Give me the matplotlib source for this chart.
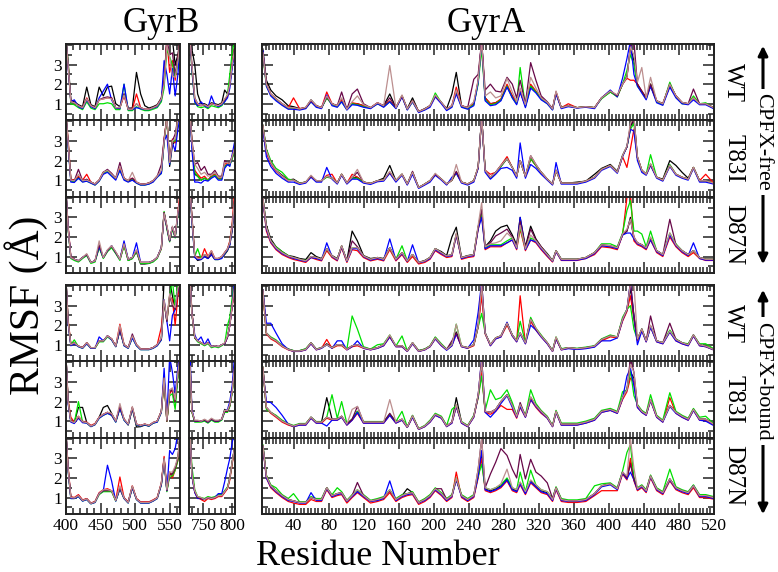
import matplotlib
matplotlib.use('Agg')
import matplotlib.pyplot as plt
from matplotlib.patches import FancyArrowPatch
from matplotlib.ticker import MultipleLocator, NullFormatter

plt.rcParams['font.family'] = ['Liberation Serif', 'DejaVu Serif']

# residue numbers of the sampled points
res_b1 = [400, 403, 407, 412, 418, 424, 430, 436, 442, 448, 454, 460, 466, 472, 478, 484,
          490, 496, 502, 508, 514, 520, 526, 532, 538, 542, 546, 550, 554, 558, 562, 565]
res_b2 = [727, 730, 735, 740, 746, 752, 758, 764, 770, 776, 782, 787, 792, 796, 800, 804]
res_a = [5, 9, 14, 20, 27, 34, 40, 47, 54, 60, 66, 72, 78, 84, 90, 95, 101, 107, 113, 120,
         128, 136, 143, 150, 157, 164, 170, 176, 183, 190, 196, 202, 209, 215, 221, 226, 232, 239, 246, 251,
         255, 259, 265, 271, 277, 284, 290, 295, 299, 305, 311, 317, 323, 330, 336, 340, 346, 354, 364, 374,
         384, 392, 402, 410, 416, 421, 425, 429, 433, 438, 443, 448, 455, 462, 470, 477, 484, 491, 497, 504,
         511, 520]

# series order in every block: black, red, green, blue, maroon, brown
colors = ['#000000', '#ff0000', '#00e000', '#0000ff', '#670748', '#bc8f8f']

# ---------------- CPFX-free, WT ----------------
wt_free_b1 = [
    [4.3, 3.2, 1.2, 1.1, 0.95, 0.85, 1.85, 0.95, 0.85, 1.85, 1.4, 1.85, 1.9, 1.0, 0.85, 1.5, 0.78, 0.78, 2.6, 1.5, 0.9, 0.78, 0.85, 0.95, 1.3, 2.2, 4.3, 4.3, 4.3, 3.0, 3.5, 4.3],
    [4.3, 3.0, 1.1, 1.05, 0.9, 0.8, 1.3, 0.9, 0.8, 1.2, 1.25, 1.3, 1.3, 0.8, 0.8, 1.4, 0.72, 0.72, 1.5, 0.8, 0.72, 0.72, 0.8, 0.9, 1.25, 2.0, 4.3, 2.6, 3.2, 2.2, 3.3, 4.2],
    [4.3, 3.1, 1.0, 0.95, 0.8, 0.7, 1.1, 0.78, 0.7, 1.0, 1.0, 1.05, 1.0, 0.7, 0.7, 2.0, 0.65, 0.65, 0.85, 0.72, 0.65, 0.65, 0.72, 0.8, 1.1, 1.8, 3.8, 3.4, 3.0, 2.4, 3.0, 4.2],
    [4.3, 2.9, 1.1, 1.2, 0.85, 0.75, 1.2, 0.85, 0.75, 1.3, 1.65, 2.0, 1.2, 0.78, 0.75, 2.0, 0.7, 0.7, 0.8, 0.75, 0.7, 0.7, 0.78, 0.85, 1.2, 3.2, 2.5, 1.5, 2.8, 1.4, 2.5, 4.0],
    [4.3, 3.0, 1.1, 1.05, 0.9, 0.8, 1.25, 0.9, 0.8, 1.2, 1.3, 1.35, 1.3, 0.8, 0.8, 1.5, 0.72, 0.72, 1.0, 0.8, 0.72, 0.72, 0.8, 0.9, 1.25, 2.1, 4.3, 3.5, 3.6, 2.5, 3.4, 4.3],
    [4.3, 3.0, 1.1, 1.05, 0.9, 0.8, 1.25, 0.9, 0.8, 1.2, 1.25, 1.3, 1.25, 0.8, 0.8, 1.45, 0.72, 0.72, 1.0, 0.8, 0.72, 0.72, 0.8, 0.9, 1.25, 2.0, 4.0, 3.4, 2.4, 2.35, 3.2, 4.2],
]
wt_free_b2 = [
    [4.3, 3.8, 3.0, 1.5, 1.0, 1.0, 0.9, 1.05, 1.0, 0.95, 1.05, 1.7, 1.5, 2.0, 3.0, 3.8],
    [4.3, 2.8, 1.2, 0.95, 0.9, 0.95, 0.85, 1.0, 0.95, 0.9, 1.0, 1.2, 1.4, 2.0, 3.0, 3.8],
    [4.3, 2.7, 1.1, 0.85, 0.8, 0.85, 0.75, 0.9, 0.85, 0.8, 0.9, 1.1, 1.5, 2.5, 3.6, 4.2],
    [4.3, 2.8, 1.1, 0.9, 1.1, 0.9, 0.8, 1.4, 0.95, 0.85, 0.95, 1.1, 1.3, 1.8, 2.8, 3.6],
    [4.3, 3.0, 1.3, 1.0, 0.9, 0.95, 0.85, 1.0, 0.95, 0.9, 1.0, 1.2, 1.4, 2.0, 3.0, 3.8],
    [4.3, 3.0, 1.3, 1.0, 0.9, 0.95, 0.85, 1.0, 0.95, 0.9, 1.0, 1.25, 1.45, 2.0, 3.0, 3.7],
]
wt_free_a = [
    [3.8, 2.2, 1.7, 1.4, 1.2, 0.9, 0.85, 0.75, 0.8, 1.2, 0.9, 0.8, 1.3, 1.0, 0.9, 1.2, 0.75, 1.0, 1.0, 0.9,
     0.8, 1.0, 0.9, 1.5, 0.8, 1.4, 0.75, 1.3, 0.6, 0.75, 0.9, 1.4, 1.05, 0.75, 1.5, 2.6, 0.9, 0.8, 1.0, 2.1,
     4.2, 1.3, 1.0, 1.05, 1.2, 1.9, 1.4, 1.05, 1.6, 0.9, 1.9, 1.6, 1.3, 1.05, 0.75, 1.55, 0.8, 0.9, 0.8, 0.85,
     0.8, 1.3, 1.6, 1.4, 2.0, 2.4, 3.9, 3.2, 2.0, 1.6, 1.3, 1.9, 1.15, 1.0, 1.9, 1.4, 1.05, 1.0, 1.3, 1.0, 1.0, 0.8],
    [3.6, 2.0, 1.5, 1.25, 1.0, 0.8, 1.3, 0.75, 0.8, 1.15, 0.9, 0.8, 1.6, 1.0, 0.9, 1.2, 0.72, 1.05, 1.0, 0.9,
     0.8, 1.05, 0.9, 1.15, 0.8, 1.4, 0.72, 1.15, 0.6, 0.72, 0.9, 1.4, 1.05, 0.72, 0.9, 1.85, 0.9, 0.8, 1.0, 2.2,
     4.2, 1.3, 1.0, 1.05, 1.25, 2.0, 1.4, 1.05, 1.65, 0.9, 2.0, 1.65, 1.3, 1.05, 0.72, 1.6, 0.8, 1.0, 0.8, 0.85,
     0.8, 1.3, 1.65, 1.4, 2.0, 2.3, 2.2, 2.2, 2.0, 1.65, 1.3, 2.0, 1.15, 1.0, 2.0, 1.4, 1.05, 1.0, 1.3, 1.0, 1.0, 0.8],
    [3.5, 1.9, 1.45, 1.2, 0.95, 0.75, 0.78, 0.7, 0.78, 1.1, 0.85, 0.78, 1.3, 0.95, 0.85, 1.1, 0.7, 1.0, 0.95, 0.85,
     0.78, 1.0, 0.85, 1.1, 0.78, 1.4, 0.7, 1.1, 0.58, 0.7, 0.88, 1.55, 1.05, 0.7, 0.85, 1.6, 0.85, 0.75, 0.95, 2.0,
     3.8, 1.2, 0.95, 1.0, 1.2, 1.9, 1.3, 1.0, 2.85, 0.85, 1.9, 1.6, 1.25, 1.0, 0.7, 1.55, 0.8, 0.9, 0.8, 0.85,
     0.8, 1.25, 1.6, 1.35, 2.0, 2.7, 3.5, 3.0, 1.9, 1.6, 1.25, 2.0, 1.1, 0.95, 2.1, 1.35, 1.0, 1.0, 1.4, 1.0, 1.05, 0.78],
    [3.7, 1.9, 1.4, 1.15, 0.92, 0.72, 0.72, 0.68, 0.75, 1.1, 0.82, 0.75, 1.45, 0.9, 0.82, 1.1, 0.68, 0.95, 0.92, 0.82,
     0.75, 1.0, 0.82, 1.1, 0.75, 1.35, 0.68, 1.1, 0.55, 0.68, 0.82, 1.35, 1.0, 0.65, 0.82, 1.5, 0.82, 0.72, 0.9, 2.1,
     4.2, 1.15, 0.9, 0.95, 1.15, 1.85, 1.3, 0.95, 1.6, 0.8, 1.8, 1.55, 1.2, 1.0, 0.68, 1.5, 0.75, 0.85, 0.78, 0.82,
     0.75, 1.3, 1.7, 1.35, 2.3, 3.3, 4.2, 2.5, 1.9, 1.55, 1.2, 1.9, 1.05, 0.92, 1.85, 1.3, 1.0, 0.95, 1.2, 0.95, 0.95, 0.75],
    [3.6, 2.0, 1.5, 1.25, 1.0, 0.8, 0.8, 0.73, 0.8, 1.15, 0.9, 0.8, 1.35, 1.0, 0.9, 1.6, 0.72, 1.5, 1.75, 1.0,
     0.8, 1.05, 0.9, 1.3, 0.8, 1.4, 0.73, 1.15, 0.6, 0.73, 0.9, 1.4, 1.07, 0.73, 0.9, 1.65, 0.9, 0.8, 2.25, 2.5,
     4.2, 1.7, 2.0, 1.65, 1.6, 2.35, 2.0, 1.3, 2.2, 1.0, 3.1, 2.2, 1.4, 1.1, 0.75, 1.6, 0.8, 0.9, 0.8, 0.85,
     0.8, 1.3, 1.65, 1.4, 2.0, 2.35, 3.9, 4.2, 2.0, 1.65, 1.3, 2.0, 1.15, 1.0, 2.0, 1.4, 1.07, 1.0, 1.75, 1.0, 1.0, 0.8],
    [3.6, 2.0, 1.5, 1.25, 1.0, 0.8, 0.8, 0.73, 0.82, 1.2, 0.9, 0.8, 1.4, 1.0, 0.9, 1.3, 0.72, 1.1, 1.4, 0.95,
     0.8, 1.05, 0.9, 2.95, 0.8, 1.45, 0.73, 1.15, 0.6, 0.73, 0.9, 1.45, 1.07, 0.73, 0.9, 1.7, 0.9, 0.8, 1.1, 2.2,
     4.2, 1.4, 1.6, 1.3, 1.4, 2.3, 1.6, 1.1, 1.8, 0.95, 2.35, 1.8, 1.3, 1.07, 0.73, 1.65, 0.8, 0.9, 0.8, 0.85,
     0.8, 1.3, 1.65, 1.45, 2.0, 2.35, 3.9, 3.5, 2.1, 2.85, 1.3, 2.35, 1.15, 1.0, 2.0, 1.4, 1.07, 1.0, 1.3, 1.0, 1.0, 0.8],
]

# ---------------- CPFX-free, T83I ----------------
t83i_free_b1 = [
    [4.3, 2.9, 1.0, 0.97, 1.15, 0.97, 1.0, 0.9, 0.8, 1.0, 1.4, 1.5, 1.3, 1.1, 1.55, 1.1, 0.95, 1.05, 0.88, 0.78, 0.8, 0.85, 0.97, 1.2, 1.35, 3.0, 4.2, 1.7, 2.8, 3.0, 4.0, 4.2],
    [4.3, 3.1, 1.05, 1.0, 1.2, 1.0, 1.3, 0.9, 0.8, 1.0, 1.4, 1.45, 1.3, 1.1, 1.6, 1.1, 0.97, 1.1, 0.9, 0.8, 0.8, 0.85, 0.97, 1.2, 1.4, 3.1, 4.2, 1.9, 3.1, 2.9, 4.2, 4.2],
    [4.3, 2.9, 0.95, 0.92, 1.1, 0.92, 0.95, 0.85, 0.75, 0.95, 1.35, 1.45, 1.25, 1.05, 1.5, 1.05, 0.92, 1.05, 0.85, 0.75, 0.75, 0.8, 0.92, 1.15, 1.35, 2.9, 4.2, 1.8, 3.0, 3.0, 4.2, 4.2],
    [4.3, 2.8, 0.9, 0.88, 1.1, 0.9, 0.95, 0.85, 0.75, 0.95, 1.3, 1.4, 1.2, 1.0, 1.5, 1.0, 0.9, 1.0, 0.85, 0.75, 0.75, 0.8, 0.9, 1.15, 1.35, 3.0, 3.3, 1.8, 2.9, 2.5, 3.6, 4.2],
    [4.3, 3.0, 1.0, 0.97, 1.55, 0.97, 1.05, 0.9, 0.8, 1.0, 1.4, 1.55, 1.35, 1.1, 1.9, 1.1, 0.97, 1.1, 0.9, 0.8, 0.8, 0.85, 0.97, 1.2, 1.8, 3.1, 4.2, 1.9, 3.0, 3.35, 4.2, 4.2],
    [4.3, 3.0, 1.0, 0.97, 1.3, 0.97, 1.0, 0.9, 0.8, 1.0, 1.4, 1.5, 1.3, 1.1, 1.7, 1.1, 0.97, 1.4, 0.9, 0.8, 0.8, 0.85, 0.97, 1.2, 1.5, 3.0, 4.2, 1.9, 3.0, 3.1, 4.2, 4.2],
]
t83i_free_b2 = [
    [4.3, 3.0, 1.3, 1.2, 1.0, 1.1, 1.0, 1.2, 1.3, 1.1, 1.1, 1.7, 1.8, 1.8, 2.1, 2.5],
    [4.3, 3.0, 1.5, 1.3, 1.1, 1.2, 1.0, 1.2, 1.3, 1.1, 1.1, 1.8, 1.9, 1.8, 2.2, 2.6],
    [4.3, 2.9, 1.4, 1.2, 1.0, 1.1, 1.0, 1.15, 1.25, 1.05, 1.05, 1.7, 1.8, 1.75, 2.1, 2.5],
    [4.3, 2.6, 0.9, 0.9, 0.85, 1.0, 0.95, 1.1, 1.2, 1.0, 1.0, 1.6, 1.8, 1.7, 2.3, 2.9],
    [4.3, 3.1, 1.8, 1.9, 1.5, 1.7, 1.3, 1.3, 1.5, 1.2, 1.2, 2.0, 1.9, 1.9, 2.2, 2.6],
    [4.3, 3.0, 1.8, 1.6, 1.3, 1.4, 1.2, 1.25, 1.4, 1.15, 1.15, 1.9, 1.9, 1.85, 2.2, 2.6],
]
t83i_free_a = [
    [3.8, 2.5, 1.9, 1.5, 1.25, 1.0, 1.05, 0.85, 0.9, 1.2, 0.97, 0.97, 1.2, 1.1, 0.85, 1.3, 0.85, 1.1, 1.15, 0.9,
     0.83, 0.97, 1.1, 1.75, 0.97, 1.3, 0.8, 1.4, 0.62, 0.8, 0.97, 1.3, 1.05, 0.8, 1.0, 1.4, 0.9, 0.8, 0.97, 1.65,
     4.2, 1.5, 1.1, 1.4, 1.7, 2.1, 1.65, 1.2, 2.0, 1.2, 2.1, 1.75, 1.4, 1.05, 0.8, 1.5, 0.85, 0.85, 0.9, 0.95,
     1.3, 1.6, 1.8, 1.45, 2.25, 2.7, 3.7, 4.2, 2.15, 1.5, 1.3, 1.8, 1.15, 1.05, 2.0, 1.75, 1.4, 1.1, 1.65, 0.97, 0.97, 0.85],
    [3.7, 2.4, 1.85, 1.45, 1.2, 0.97, 1.0, 0.83, 0.9, 1.2, 0.97, 0.97, 1.25, 1.3, 0.85, 1.3, 0.85, 1.3, 1.15, 0.9,
     0.83, 0.97, 1.0, 1.4, 0.97, 1.3, 0.8, 1.35, 0.62, 0.8, 0.97, 1.3, 1.05, 0.8, 1.0, 1.4, 0.9, 0.8, 0.97, 1.65,
     4.2, 1.5, 1.3, 1.4, 1.75, 2.2, 1.65, 1.2, 2.0, 1.2, 2.1, 1.75, 1.4, 1.05, 0.8, 1.5, 0.85, 0.85, 0.85, 0.95,
     1.15, 1.55, 1.75, 1.4, 2.2, 1.65, 2.6, 3.6, 2.15, 1.5, 1.3, 1.8, 1.15, 1.0, 1.75, 1.3, 1.15, 1.05, 1.65, 0.97, 1.3, 0.85],
    [3.8, 2.6, 2.0, 1.6, 1.4, 1.05, 1.0, 0.85, 0.9, 1.2, 0.97, 0.97, 1.15, 1.1, 0.85, 1.3, 0.85, 1.1, 1.1, 0.9,
     0.83, 0.97, 1.0, 1.4, 0.97, 1.3, 0.8, 1.4, 0.62, 0.8, 0.97, 1.3, 1.05, 0.8, 1.0, 1.4, 0.9, 0.8, 0.97, 1.65,
     4.2, 1.5, 1.1, 1.4, 1.7, 2.1, 1.65, 1.2, 2.0, 1.2, 2.1, 1.75, 1.4, 1.05, 0.8, 1.5, 0.85, 0.85, 0.85, 0.95,
     1.15, 1.55, 1.75, 1.4, 2.25, 2.7, 3.6, 3.9, 2.15, 1.5, 1.3, 2.3, 1.15, 1.0, 1.8, 1.3, 1.15, 1.05, 1.65, 0.97, 0.97, 0.85],
    [3.6, 2.2, 1.7, 1.35, 1.1, 0.9, 0.9, 0.78, 0.85, 1.15, 0.9, 0.9, 1.65, 1.05, 0.8, 1.25, 0.8, 1.05, 1.05, 0.85,
     0.78, 0.92, 0.95, 1.35, 0.9, 1.25, 0.75, 1.3, 0.58, 0.75, 0.9, 1.25, 1.0, 0.75, 1.15, 1.35, 0.85, 0.75, 0.9, 1.6,
     4.2, 1.4, 1.05, 1.3, 1.6, 1.65, 1.5, 1.1, 2.9, 1.1, 1.8, 1.6, 1.3, 1.0, 0.75, 1.9, 0.8, 0.8, 0.8, 0.9,
     1.1, 1.5, 1.7, 1.35, 2.2, 2.7, 3.6, 3.5, 2.0, 1.4, 1.25, 1.75, 1.1, 0.95, 1.7, 1.25, 1.1, 1.0, 1.6, 0.9, 0.9, 0.8],
    [3.8, 2.5, 1.9, 1.5, 1.2, 0.97, 1.0, 0.83, 0.9, 1.2, 0.97, 0.97, 1.2, 1.1, 0.85, 1.3, 0.85, 1.15, 1.4, 0.9,
     0.83, 0.97, 1.0, 1.4, 0.97, 1.3, 0.8, 1.45, 0.62, 0.8, 0.97, 1.3, 1.05, 0.8, 1.0, 1.45, 0.9, 0.8, 0.97, 1.65,
     4.2, 1.5, 1.15, 1.4, 1.75, 2.1, 1.65, 1.2, 2.0, 1.2, 2.25, 1.8, 1.4, 1.05, 0.8, 1.5, 0.85, 0.85, 0.85, 0.95,
     1.15, 1.55, 1.75, 1.4, 2.25, 2.7, 3.8, 4.2, 2.2, 1.5, 1.3, 1.8, 1.15, 1.0, 1.75, 1.3, 1.15, 1.05, 1.65, 0.97, 0.97, 0.85],
    [3.8, 2.5, 1.9, 1.5, 1.2, 0.97, 1.0, 0.83, 0.9, 1.25, 0.97, 0.97, 1.2, 1.1, 0.85, 1.3, 0.85, 1.15, 1.55, 0.9,
     0.83, 0.97, 1.0, 1.45, 0.97, 1.3, 0.8, 1.4, 0.62, 0.8, 0.97, 1.35, 1.05, 0.8, 1.0, 1.8, 0.9, 0.8, 0.97, 1.7,
     4.2, 1.5, 1.15, 1.4, 1.75, 2.1, 1.65, 1.2, 2.0, 1.2, 2.25, 1.8, 1.4, 1.05, 0.8, 1.5, 0.85, 0.85, 0.85, 0.95,
     1.15, 1.55, 1.75, 1.4, 2.25, 2.75, 3.9, 4.2, 2.2, 1.5, 1.3, 1.85, 1.15, 1.0, 1.75, 1.3, 1.15, 1.05, 1.65, 0.97, 0.97, 0.85],
]

# ---------------- CPFX-free, D87N ----------------
d87n_free_b1 = [
    [4.3, 2.5, 0.95, 0.86, 0.78, 0.95, 1.1, 0.7, 0.78, 1.5, 0.95, 1.3, 1.5, 1.2, 0.86, 1.6, 0.8, 0.9, 1.25, 0.62, 0.62, 0.65, 0.75, 0.95, 1.45, 3.2, 2.5, 1.8, 2.5, 2.0, 3.2, 3.8],
    [4.3, 2.6, 1.0, 0.86, 0.78, 0.95, 1.1, 0.7, 0.78, 1.5, 0.95, 1.3, 1.5, 1.2, 0.86, 1.6, 0.86, 0.95, 1.3, 0.7, 0.7, 0.7, 0.78, 0.95, 1.4, 3.25, 2.5, 1.8, 2.5, 2.0, 3.3, 4.2],
    [4.3, 2.4, 0.9, 0.8, 0.72, 0.9, 1.05, 0.65, 0.72, 1.45, 0.9, 1.25, 1.45, 1.15, 0.8, 1.55, 0.8, 0.9, 1.25, 0.65, 0.65, 0.65, 0.72, 0.9, 1.4, 3.3, 2.4, 1.75, 2.4, 1.95, 3.1, 3.7],
    [4.3, 2.5, 0.95, 0.86, 0.78, 0.95, 1.1, 0.7, 0.78, 1.5, 0.95, 1.3, 1.55, 1.2, 0.86, 1.8, 0.86, 0.95, 1.7, 0.7, 0.7, 0.7, 0.78, 0.95, 1.45, 3.2, 2.5, 1.8, 2.5, 2.0, 3.2, 3.8],
    [4.3, 2.5, 0.95, 0.86, 0.78, 0.95, 1.1, 0.7, 0.78, 1.6, 0.95, 1.3, 1.55, 1.2, 0.86, 1.65, 0.86, 0.95, 1.3, 0.7, 0.7, 0.7, 0.78, 0.95, 1.45, 3.25, 2.5, 1.8, 2.5, 2.0, 3.2, 3.8],
    [4.3, 2.5, 0.95, 0.86, 0.78, 0.95, 1.15, 0.7, 0.78, 1.8, 0.95, 1.35, 1.55, 1.25, 0.86, 1.65, 0.86, 0.95, 1.35, 0.7, 0.7, 0.7, 0.78, 0.95, 1.45, 3.2, 2.6, 1.85, 2.55, 2.05, 3.3, 3.9],
]
d87n_free_b2 = [
    [4.3, 3.0, 1.0, 0.8, 0.85, 1.0, 0.9, 1.1, 0.85, 0.85, 0.95, 1.1, 1.3, 1.6, 2.3, 3.5],
    [4.3, 3.0, 1.05, 0.95, 0.9, 1.4, 1.0, 1.3, 0.9, 0.9, 1.0, 1.2, 1.4, 1.8, 2.7, 4.2],
    [4.3, 2.9, 1.0, 1.4, 0.9, 1.1, 0.95, 1.2, 0.85, 0.85, 0.95, 1.15, 1.35, 1.7, 2.5, 3.7],
    [4.3, 2.8, 0.95, 0.85, 0.85, 1.0, 0.9, 1.1, 0.85, 0.85, 0.9, 1.15, 1.35, 1.6, 2.4, 3.6],
    [4.3, 3.1, 1.05, 0.9, 0.9, 1.1, 0.95, 1.2, 0.9, 0.9, 1.0, 1.2, 1.4, 1.7, 2.5, 3.8],
    [4.3, 3.0, 1.05, 0.9, 0.9, 1.1, 1.0, 1.3, 0.9, 0.9, 1.0, 1.2, 1.4, 1.7, 2.5, 3.8],
]
d87n_free_a = [
    [4.0, 2.6, 1.9, 1.5, 1.25, 1.05, 1.0, 0.9, 0.85, 1.2, 1.0, 0.9, 1.4, 1.05, 0.9, 1.5, 0.8, 2.3, 1.8, 1.05,
     0.9, 0.95, 0.9, 1.45, 0.86, 1.2, 0.78, 1.1, 0.7, 0.8, 0.95, 1.4, 1.25, 1.05, 2.0, 2.5, 0.95, 1.05, 1.1, 2.5,
     3.2, 1.5, 1.8, 2.3, 2.5, 2.6, 2.1, 1.6, 3.0, 1.5, 2.55, 1.9, 1.5, 1.15, 0.8, 1.3, 0.86, 0.86, 0.86, 0.95,
     1.2, 1.6, 1.5, 1.45, 2.1, 2.3, 3.0, 1.9, 1.7, 1.6, 1.45, 1.9, 1.3, 1.1, 2.1, 1.6, 1.3, 1.1, 1.3, 0.95, 0.86, 0.86],
    [3.9, 2.3, 1.7, 1.35, 1.1, 0.95, 0.85, 0.78, 0.7, 0.95, 0.85, 0.78, 1.3, 0.95, 0.78, 1.45, 0.7, 1.35, 1.3, 0.95,
     0.78, 0.86, 0.78, 1.35, 0.78, 1.1, 0.7, 1.0, 0.62, 0.7, 0.86, 1.3, 1.1, 0.95, 1.0, 2.1, 0.86, 0.95, 1.0, 2.4,
     3.2, 1.35, 1.5, 1.5, 1.5, 1.7, 1.85, 1.35, 2.4, 1.3, 1.85, 1.7, 1.35, 1.0, 0.72, 1.25, 0.8, 0.8, 0.8, 0.9,
     1.1, 1.5, 1.45, 1.35, 2.1, 4.0, 4.2, 1.8, 1.6, 1.5, 1.35, 1.85, 1.2, 1.0, 2.0, 1.5, 1.2, 1.0, 1.2, 0.9, 0.8, 0.8],
    [4.0, 2.5, 1.8, 1.5, 1.25, 1.05, 0.95, 0.86, 0.8, 1.0, 0.95, 0.86, 1.4, 1.03, 0.86, 1.55, 0.78, 1.45, 1.45, 1.03,
     0.86, 0.95, 0.86, 1.45, 0.86, 1.55, 0.78, 1.1, 0.7, 0.78, 0.95, 1.4, 1.2, 1.03, 1.1, 2.15, 0.95, 1.03, 1.1, 2.5,
     3.2, 1.45, 1.6, 1.6, 1.6, 1.8, 1.95, 1.45, 2.5, 1.4, 1.95, 1.8, 1.45, 1.1, 0.78, 1.3, 0.86, 0.86, 0.86, 0.95,
     1.2, 1.65, 1.65, 1.5, 2.2, 3.35, 3.85, 2.3, 2.3, 2.15, 1.5, 2.3, 1.3, 1.1, 2.2, 1.65, 1.3, 1.1, 1.3, 0.95, 0.86, 0.86],
    [3.9, 2.4, 1.75, 1.4, 1.15, 1.0, 0.9, 0.82, 0.75, 0.95, 0.9, 0.82, 1.7, 1.0, 0.82, 1.5, 0.75, 1.4, 1.4, 1.0,
     0.82, 0.9, 0.82, 1.9, 0.82, 1.15, 0.75, 1.6, 0.68, 0.75, 0.9, 1.35, 1.15, 1.0, 1.05, 2.1, 0.9, 1.0, 1.05, 2.4,
     3.0, 1.4, 1.55, 1.55, 1.55, 1.7, 1.85, 1.4, 3.0, 1.35, 1.85, 1.75, 1.4, 1.05, 0.75, 1.25, 0.82, 0.82, 0.82, 0.9,
     1.15, 1.55, 1.5, 1.4, 2.1, 2.2, 2.2, 1.9, 1.65, 1.55, 1.4, 1.85, 1.25, 1.05, 2.1, 1.55, 1.25, 1.05, 1.7, 0.9, 0.82, 0.82],
    [4.0, 2.5, 1.8, 1.45, 1.2, 1.03, 0.95, 0.86, 0.78, 1.0, 0.95, 0.86, 1.4, 1.03, 0.86, 1.55, 0.78, 1.8, 1.5, 1.03,
     0.86, 0.95, 0.86, 1.45, 0.86, 1.2, 0.78, 1.1, 0.7, 0.78, 0.95, 1.4, 1.2, 1.03, 1.1, 2.15, 0.95, 1.03, 1.1, 2.5,
     3.4, 1.5, 1.7, 2.05, 2.2, 2.4, 2.0, 1.5, 2.8, 1.45, 2.4, 1.85, 1.5, 1.1, 0.78, 1.3, 0.86, 0.86, 0.86, 0.95,
     1.2, 1.6, 1.55, 1.45, 2.15, 2.3, 2.9, 2.0, 1.7, 1.6, 1.45, 1.95, 1.3, 1.1, 2.9, 1.6, 1.3, 1.1, 1.3, 0.95, 0.86, 0.86],
    [4.0, 2.5, 1.8, 1.45, 1.2, 1.03, 0.95, 0.86, 0.78, 1.0, 0.95, 0.86, 1.4, 1.03, 0.86, 1.55, 0.78, 1.45, 1.45, 1.03,
     0.86, 0.95, 0.86, 1.45, 0.86, 1.2, 0.78, 1.1, 0.7, 0.78, 0.95, 1.4, 1.2, 1.03, 1.1, 2.2, 0.95, 1.03, 1.1, 2.6,
     3.75, 1.5, 1.65, 1.7, 1.8, 2.2, 1.95, 1.45, 2.6, 1.4, 2.1, 1.8, 1.45, 1.1, 0.78, 1.3, 0.86, 0.86, 0.86, 0.95,
     1.2, 1.6, 1.55, 1.45, 2.15, 2.4, 2.9, 2.0, 1.7, 1.6, 1.45, 2.0, 1.3, 1.1, 2.2, 1.6, 1.3, 1.1, 1.3, 0.95, 0.86, 0.86],
]

# ---------------- CPFX-bound, WT ----------------
wt_bound_b1 = [
    [4.3, 2.2, 1.0, 1.1, 0.93, 0.85, 1.1, 0.85, 0.85, 1.2, 1.2, 1.45, 1.3, 0.93, 1.75, 1.0, 0.85, 1.4, 1.0, 0.78, 0.78, 0.78, 0.85, 1.0, 1.3, 4.3, 4.3, 4.3, 3.5, 2.8, 3.6, 4.2],
    [4.3, 2.3, 1.05, 1.1, 0.93, 0.85, 1.1, 0.85, 0.85, 1.2, 1.2, 1.45, 1.3, 0.93, 2.05, 1.0, 0.85, 1.4, 1.0, 0.78, 0.78, 0.78, 0.85, 1.0, 1.9, 3.2, 2.2, 3.5, 3.3, 2.0, 3.5, 4.2],
    [4.3, 2.2, 1.0, 1.25, 0.9, 0.82, 1.05, 0.82, 0.82, 1.15, 1.15, 1.4, 1.25, 0.9, 1.75, 0.95, 0.82, 1.35, 0.95, 0.75, 0.75, 0.75, 0.82, 0.95, 1.25, 3.2, 2.2, 3.5, 4.3, 2.9, 4.3, 4.3],
    [4.3, 2.1, 0.95, 1.05, 0.9, 0.82, 1.05, 0.82, 0.82, 1.4, 1.2, 1.45, 1.25, 0.9, 1.75, 0.95, 0.82, 1.35, 0.95, 0.75, 0.75, 0.75, 0.82, 0.95, 1.25, 3.3, 2.2, 1.2, 2.5, 2.8, 3.8, 4.2],
    [4.3, 2.2, 1.0, 1.1, 0.93, 0.85, 1.1, 0.85, 0.85, 1.2, 1.2, 1.45, 1.3, 0.93, 1.8, 1.0, 0.85, 1.55, 1.0, 0.78, 0.78, 0.78, 0.85, 1.0, 1.3, 3.25, 2.2, 3.5, 3.0, 2.8, 3.8, 4.2],
    [4.3, 2.2, 1.0, 1.1, 0.93, 0.85, 1.1, 0.85, 0.85, 1.2, 1.2, 1.45, 1.3, 0.93, 2.0, 1.0, 0.85, 1.45, 1.0, 0.78, 0.78, 0.78, 0.85, 1.0, 1.35, 3.3, 2.3, 3.6, 3.1, 2.9, 3.9, 4.2],
]
wt_bound_b2 = [
    [4.3, 2.6, 1.35, 1.2, 1.1, 1.0, 1.1, 0.9, 0.95, 0.9, 1.0, 1.05, 1.4, 2.0, 3.0, 3.9],
    [4.3, 2.7, 1.4, 1.2, 1.1, 1.0, 1.1, 0.9, 0.95, 0.9, 1.0, 1.05, 1.4, 2.0, 2.9, 3.8],
    [4.3, 2.6, 1.35, 1.15, 1.05, 0.95, 1.05, 0.85, 0.9, 0.85, 0.95, 1.05, 2.0, 2.4, 3.4, 4.2],
    [4.3, 2.6, 1.5, 1.2, 1.4, 1.0, 1.3, 0.9, 0.95, 0.9, 1.0, 1.05, 1.4, 2.0, 3.0, 4.3],
    [4.3, 2.6, 1.35, 1.2, 1.1, 1.0, 1.1, 0.9, 0.95, 0.9, 1.0, 1.05, 1.4, 2.0, 3.0, 3.9],
    [4.3, 2.6, 1.4, 1.2, 1.1, 1.0, 1.1, 0.9, 0.95, 0.9, 1.0, 1.1, 1.45, 2.0, 3.0, 3.9],
]
wt_bound_a = [
    [3.8, 1.6, 1.35, 1.2, 0.95, 0.78, 0.7, 0.7, 0.78, 1.1, 0.78, 0.85, 1.05, 0.85, 1.0, 1.0, 0.78, 0.95, 1.0, 0.85,
     0.78, 0.85, 1.0, 1.45, 0.93, 0.95, 0.7, 1.1, 0.7, 0.78, 0.93, 1.35, 1.0, 0.78, 1.05, 1.65, 0.93, 0.85, 1.0, 1.95,
     3.8, 1.6, 1.0, 1.35, 1.45, 2.1, 1.5, 1.2, 1.6, 1.1, 2.3, 1.8, 1.45, 1.1, 0.7, 1.35, 0.78, 0.85, 0.8, 0.85,
     0.93, 1.27, 1.45, 1.4, 2.3, 2.8, 3.9, 2.45, 1.27, 1.8, 1.2, 1.95, 1.2, 1.1, 1.7, 1.27, 1.1, 1.0, 1.5, 1.0, 0.93, 0.78],
    [3.7, 1.55, 1.3, 1.15, 0.9, 0.74, 0.66, 0.66, 0.74, 1.05, 0.74, 0.82, 1.27, 0.82, 0.95, 0.95, 0.74, 0.9, 0.95, 0.82,
     0.74, 0.82, 0.95, 1.4, 0.9, 0.9, 0.66, 1.05, 0.66, 0.74, 0.9, 1.3, 0.95, 0.74, 0.95, 1.55, 0.9, 0.82, 0.95, 1.9,
     3.5, 1.55, 0.95, 1.3, 1.4, 2.0, 1.45, 1.15, 3.5, 1.05, 2.2, 1.75, 1.4, 1.05, 0.66, 1.3, 0.74, 0.82, 0.78, 0.82,
     0.9, 1.2, 1.4, 1.35, 2.2, 2.7, 3.5, 2.3, 1.2, 1.75, 1.15, 1.9, 1.15, 1.05, 1.65, 1.2, 1.05, 0.95, 1.45, 0.95, 0.9, 0.74],
    [3.8, 1.6, 1.4, 1.25, 0.95, 0.78, 0.7, 0.7, 0.8, 1.1, 0.78, 0.85, 1.0, 0.85, 1.0, 1.0, 0.78, 2.47, 1.8, 0.9,
     0.78, 1.0, 1.05, 1.5, 0.93, 1.45, 0.7, 1.1, 0.7, 0.78, 0.95, 1.4, 1.05, 0.78, 1.0, 2.05, 0.93, 0.85, 1.0, 1.9,
     2.6, 1.6, 1.0, 1.35, 1.45, 2.1, 1.5, 1.2, 2.2, 1.1, 2.4, 1.85, 1.5, 1.1, 0.7, 1.4, 0.8, 0.85, 0.82, 0.88,
     0.95, 1.3, 1.5, 1.4, 2.4, 2.8, 3.0, 1.8, 1.27, 1.8, 1.2, 1.95, 1.2, 1.1, 1.75, 1.3, 1.1, 1.05, 1.5, 1.05, 1.05, 0.8],
    [3.8, 2.1, 2.1, 1.6, 1.05, 0.76, 0.66, 0.66, 0.74, 1.05, 0.74, 0.82, 1.0, 0.82, 1.2, 1.2, 0.74, 0.9, 1.2, 0.82,
     0.74, 0.82, 0.95, 1.4, 0.9, 0.9, 0.66, 1.05, 0.66, 0.74, 0.9, 1.3, 0.95, 0.72, 0.95, 1.55, 0.9, 0.82, 1.25, 2.65,
     4.2, 1.6, 0.95, 1.3, 1.4, 2.15, 1.45, 1.15, 1.55, 1.05, 2.0, 1.75, 1.4, 1.05, 0.66, 1.3, 0.74, 0.8, 0.76, 0.8,
     0.88, 1.2, 1.2, 1.35, 2.25, 2.8, 4.2, 2.4, 1.0, 1.7, 1.15, 1.9, 1.15, 1.05, 1.65, 1.2, 1.05, 0.95, 1.45, 0.95, 0.9, 0.74],
    [3.8, 1.6, 1.35, 1.2, 0.93, 0.76, 0.68, 0.68, 0.76, 1.1, 0.76, 0.85, 1.0, 0.85, 1.0, 1.0, 0.76, 0.93, 1.0, 0.85,
     0.76, 0.85, 1.0, 1.45, 0.93, 0.93, 0.68, 1.1, 0.68, 0.76, 0.93, 1.35, 1.0, 0.76, 1.2, 1.6, 0.93, 0.85, 1.0, 1.95,
     4.2, 1.6, 1.0, 1.35, 1.45, 2.1, 1.5, 1.2, 1.6, 1.1, 2.3, 1.8, 1.45, 1.1, 0.68, 1.35, 0.76, 0.85, 0.8, 0.85,
     0.93, 1.27, 1.45, 1.4, 2.3, 2.75, 4.2, 2.5, 1.27, 1.8, 1.2, 2.47, 1.2, 1.1, 2.1, 1.27, 1.1, 1.0, 1.5, 1.0, 0.93, 0.76],
    [3.8, 1.6, 1.35, 1.2, 0.93, 0.76, 0.68, 0.68, 0.76, 1.1, 0.76, 0.85, 1.0, 0.85, 1.0, 1.0, 0.76, 0.95, 1.0, 0.85,
     0.76, 0.85, 1.0, 1.5, 0.93, 0.95, 0.68, 1.1, 0.68, 0.76, 0.93, 1.35, 1.0, 0.76, 1.0, 2.05, 0.93, 0.85, 1.0, 1.95,
     4.0, 1.6, 1.0, 1.35, 1.45, 2.1, 1.5, 1.2, 1.6, 1.1, 2.3, 1.85, 1.45, 1.1, 0.68, 1.4, 0.76, 0.85, 0.8, 0.85,
     0.93, 1.27, 1.45, 1.4, 2.3, 2.8, 4.1, 4.1, 1.3, 1.8, 1.2, 2.0, 1.2, 1.1, 1.7, 1.27, 1.1, 1.0, 1.5, 1.0, 0.93, 0.76],
]

# ---------------- CPFX-bound, T83I ----------------
t83i_bound_b1 = [
    [4.3, 2.0, 1.0, 0.93, 1.7, 1.7, 0.93, 0.75, 0.85, 1.2, 1.7, 1.8, 1.4, 1.0, 1.7, 1.1, 0.8, 1.65, 0.7, 0.72, 0.8, 0.75, 0.9, 1.0, 1.5, 3.2, 1.0, 2.5, 2.6, 2.0, 3.4, 4.2],
    [4.3, 2.1, 1.2, 0.95, 1.25, 1.0, 0.95, 0.78, 0.88, 1.2, 1.35, 1.45, 1.35, 1.0, 1.7, 1.1, 0.85, 1.7, 0.85, 0.78, 0.85, 0.78, 0.93, 1.0, 1.5, 3.1, 1.0, 2.4, 2.6, 2.0, 3.4, 4.2],
    [4.3, 2.0, 1.0, 0.9, 2.0, 0.95, 0.9, 0.72, 0.82, 1.15, 1.3, 1.4, 1.3, 0.95, 1.65, 1.05, 0.82, 1.65, 0.82, 0.75, 0.82, 0.75, 0.9, 0.95, 1.45, 3.1, 1.0, 2.3, 2.4, 1.6, 3.2, 4.2],
    [4.3, 1.9, 0.95, 0.88, 1.15, 0.92, 0.9, 0.72, 0.82, 1.15, 1.3, 1.4, 1.3, 0.95, 1.65, 1.05, 0.82, 1.65, 0.82, 0.75, 0.82, 0.75, 0.9, 0.95, 1.45, 3.7, 1.1, 4.3, 3.5, 2.4, 3.8, 4.2],
    [4.3, 2.0, 1.0, 0.93, 1.2, 0.97, 0.93, 0.75, 0.85, 1.2, 1.35, 1.45, 1.35, 1.0, 1.75, 1.1, 0.85, 1.7, 0.85, 0.78, 0.85, 0.78, 0.93, 1.0, 1.5, 3.2, 1.0, 2.5, 2.6, 2.0, 3.4, 4.2],
    [4.3, 2.0, 1.0, 0.93, 1.25, 0.97, 0.93, 0.75, 0.85, 1.2, 1.35, 1.45, 1.4, 1.0, 1.9, 1.1, 0.85, 1.75, 0.85, 0.78, 0.85, 0.78, 0.93, 1.0, 1.5, 3.2, 1.05, 2.6, 2.7, 2.1, 3.5, 4.2],
]
t83i_bound_b2 = [
    [3.8, 1.5, 1.0, 1.0, 1.0, 1.05, 0.95, 1.1, 1.0, 1.0, 1.1, 1.6, 1.5, 1.8, 2.5, 3.7],
    [3.8, 1.5, 1.0, 1.0, 1.0, 1.05, 0.95, 1.1, 1.0, 1.0, 1.1, 1.5, 1.5, 1.8, 2.5, 3.7],
    [3.8, 1.45, 0.95, 0.95, 0.95, 1.0, 0.9, 1.05, 0.95, 0.95, 1.05, 1.45, 1.45, 1.75, 2.4, 3.6],
    [4.3, 1.6, 1.0, 1.0, 1.0, 1.05, 0.95, 1.1, 1.0, 1.0, 1.1, 1.5, 1.6, 2.0, 2.8, 4.2],
    [3.8, 1.5, 1.0, 1.0, 1.0, 1.05, 0.95, 1.1, 1.0, 1.0, 1.1, 1.5, 1.5, 1.8, 2.5, 3.7],
    [3.8, 1.5, 1.05, 1.05, 1.0, 1.1, 1.0, 1.15, 1.05, 1.05, 1.1, 1.55, 1.55, 1.85, 2.5, 3.7],
]
t83i_bound_a = [
    [3.75, 1.7, 1.45, 1.25, 1.0, 0.85, 0.75, 0.85, 0.85, 1.2, 0.95, 0.95, 2.2, 1.1, 1.1, 1.25, 0.85, 1.1, 1.5, 0.95,
     0.95, 0.95, 0.95, 1.35, 0.95, 1.1, 0.7, 1.27, 0.6, 0.75, 1.0, 1.35, 1.2, 0.75, 0.95, 2.2, 0.95, 0.75, 1.25, 2.3,
     3.6, 1.5, 1.45, 1.6, 2.0, 2.35, 1.8, 1.25, 1.8, 1.25, 2.2, 1.8, 1.5, 1.2, 0.75, 1.5, 0.85, 0.85, 0.85, 0.95,
     1.1, 1.5, 1.6, 1.45, 2.2, 2.6, 3.5, 3.2, 1.8, 1.5, 1.35, 2.1, 1.25, 1.0, 1.8, 1.45, 1.25, 1.1, 1.6, 1.1, 1.1, 0.85],
    [3.7, 1.65, 1.4, 1.2, 0.95, 0.8, 0.72, 0.8, 0.8, 1.15, 0.9, 0.9, 1.15, 1.05, 1.05, 1.2, 0.8, 1.05, 1.4, 0.9,
     0.9, 0.9, 0.9, 1.3, 0.9, 1.05, 0.68, 1.2, 0.58, 0.72, 0.95, 1.3, 1.15, 0.72, 0.9, 1.75, 0.9, 0.72, 1.2, 2.2,
     3.5, 1.45, 1.35, 1.5, 1.8, 1.6, 1.6, 1.15, 1.7, 1.2, 2.1, 1.7, 1.4, 1.15, 0.72, 1.45, 0.8, 0.8, 0.8, 0.9,
     1.05, 1.45, 1.55, 1.4, 2.1, 2.5, 3.2, 3.0, 1.7, 1.45, 1.3, 2.05, 1.2, 0.95, 2.2, 1.4, 1.2, 1.05, 1.55, 1.05, 1.05, 0.82],
    [3.75, 1.6, 1.45, 1.3, 1.05, 0.88, 0.78, 0.88, 0.88, 1.2, 0.98, 0.98, 1.2, 2.35, 1.15, 2.0, 0.88, 1.1, 1.5, 0.98,
     0.98, 0.98, 0.98, 1.35, 0.98, 1.5, 0.72, 1.3, 0.62, 0.78, 1.05, 1.4, 1.25, 0.78, 1.6, 1.8, 0.98, 0.78, 1.3, 2.2,
     3.3, 1.55, 2.6, 2.1, 2.2, 2.6, 1.95, 1.3, 1.85, 1.3, 2.6, 1.9, 1.55, 1.25, 0.78, 1.55, 0.9, 0.9, 0.9, 1.0,
     1.15, 1.55, 1.65, 1.5, 2.5, 2.6, 3.6, 2.3, 1.85, 1.55, 1.4, 2.35, 1.3, 1.05, 2.45, 1.5, 1.3, 1.15, 1.65, 1.2, 1.25, 0.88],
    [3.6, 2.0, 1.95, 1.7, 1.3, 0.85, 0.72, 0.8, 0.8, 1.15, 0.9, 0.9, 0.75, 1.05, 1.05, 1.2, 0.8, 1.05, 1.45, 0.9,
     0.9, 0.9, 0.9, 1.3, 0.9, 1.05, 0.68, 1.2, 0.58, 0.72, 0.95, 1.3, 1.15, 0.72, 0.9, 1.75, 0.9, 0.72, 1.2, 2.3,
     4.2, 1.45, 1.2, 1.5, 1.9, 2.3, 1.7, 1.2, 1.75, 1.2, 2.1, 1.75, 1.45, 1.15, 0.72, 1.45, 0.8, 0.8, 0.8, 0.9,
     1.05, 1.45, 1.55, 1.4, 2.15, 3.3, 3.7, 2.8, 1.7, 1.45, 1.3, 2.05, 1.2, 0.95, 1.75, 1.4, 1.2, 1.05, 1.55, 1.05, 1.0, 0.78],
    [3.75, 1.7, 1.45, 1.25, 1.0, 0.85, 0.75, 0.85, 0.85, 1.2, 0.95, 0.95, 1.2, 1.1, 1.1, 1.25, 0.85, 1.1, 1.75, 0.95,
     0.95, 0.95, 0.95, 1.4, 0.95, 1.1, 0.7, 1.27, 0.6, 0.75, 1.0, 1.35, 1.2, 0.75, 0.95, 1.8, 0.95, 0.75, 1.25, 2.3,
     4.2, 1.5, 1.45, 1.6, 2.0, 2.35, 1.8, 1.25, 1.95, 1.25, 2.2, 1.8, 1.5, 1.2, 0.75, 1.5, 0.85, 0.85, 0.85, 0.95,
     1.1, 1.5, 1.6, 1.45, 2.2, 2.6, 4.2, 3.5, 1.8, 1.5, 1.35, 2.1, 1.25, 1.0, 1.8, 1.45, 1.25, 1.1, 1.6, 1.1, 1.1, 0.85],
    [3.75, 1.7, 1.45, 1.25, 1.0, 0.85, 0.75, 0.85, 0.85, 1.2, 0.95, 0.95, 1.2, 1.1, 1.1, 1.25, 0.85, 1.6, 1.75, 0.95,
     0.95, 0.95, 0.95, 2.1, 0.95, 1.1, 0.7, 1.27, 0.6, 0.75, 1.0, 1.35, 1.2, 0.75, 0.95, 1.85, 0.95, 0.75, 1.25, 2.35,
     4.0, 1.5, 1.45, 1.6, 2.0, 2.35, 1.8, 1.25, 1.85, 1.25, 2.25, 1.8, 1.5, 1.2, 0.75, 1.5, 0.85, 0.85, 0.85, 0.95,
     1.1, 1.5, 1.6, 1.45, 2.2, 2.6, 3.9, 3.5, 1.8, 1.5, 1.35, 2.1, 1.25, 1.0, 1.8, 1.45, 1.25, 1.1, 1.6, 1.1, 1.1, 0.85],
]

# ---------------- CPFX-bound, D87N ----------------
d87n_bound_b1 = [
    [4.3, 2.5, 1.0, 0.98, 1.1, 0.85, 0.93, 0.7, 0.78, 1.2, 1.35, 1.35, 1.35, 0.85, 1.5, 0.98, 0.75, 1.55, 0.93, 0.75, 0.75, 0.75, 0.85, 0.98, 1.7, 3.0, 1.35, 2.2, 2.2, 2.5, 3.0, 4.2],
    [4.3, 2.6, 1.05, 1.0, 1.15, 0.88, 0.95, 0.72, 0.8, 1.25, 1.4, 1.45, 1.35, 0.88, 2.05, 1.0, 0.78, 1.6, 0.95, 0.78, 0.78, 0.78, 0.88, 1.0, 1.75, 3.1, 1.4, 2.3, 2.0, 2.4, 2.9, 4.0],
    [4.3, 2.4, 0.95, 0.95, 1.05, 0.82, 0.9, 0.68, 0.75, 1.15, 1.3, 1.3, 1.3, 0.82, 1.45, 0.95, 0.72, 1.5, 0.9, 0.72, 0.72, 0.72, 0.82, 0.95, 1.65, 2.9, 1.3, 2.1, 2.1, 2.4, 2.9, 4.0],
    [4.3, 2.4, 0.95, 0.95, 1.05, 0.82, 0.9, 0.68, 0.75, 1.2, 1.35, 2.65, 1.85, 0.82, 1.45, 0.95, 0.72, 1.5, 0.9, 0.72, 0.72, 0.72, 0.82, 0.95, 1.65, 2.9, 1.35, 3.4, 3.2, 3.5, 4.3, 4.3],
    [4.3, 2.5, 1.0, 0.98, 1.1, 0.85, 0.93, 0.7, 0.78, 1.2, 1.35, 1.35, 1.35, 0.85, 1.5, 0.98, 0.75, 1.55, 0.93, 0.75, 0.75, 0.75, 0.85, 0.98, 1.7, 3.0, 1.35, 2.2, 2.2, 2.5, 3.0, 4.2],
    [4.3, 2.5, 1.0, 0.98, 1.1, 0.85, 0.93, 0.7, 0.78, 1.2, 1.4, 1.4, 1.35, 0.85, 1.6, 0.98, 0.75, 1.6, 0.93, 0.75, 0.75, 0.75, 0.85, 0.98, 1.75, 3.0, 1.4, 2.3, 2.3, 2.6, 3.1, 4.2],
]
d87n_bound_b2 = [
    [4.3, 2.2, 1.3, 1.0, 0.95, 0.9, 1.0, 0.95, 1.0, 1.1, 1.1, 1.3, 1.5, 2.0, 2.8, 3.5],
    [4.3, 2.2, 1.3, 1.0, 0.9, 0.8, 0.95, 0.9, 0.95, 1.05, 1.05, 1.25, 1.45, 1.9, 2.7, 3.4],
    [4.3, 2.6, 1.4, 1.05, 1.0, 0.95, 1.05, 1.0, 1.05, 1.15, 1.15, 1.35, 1.55, 2.0, 2.8, 3.5],
    [4.3, 2.1, 1.25, 0.95, 0.95, 0.9, 1.0, 0.95, 1.0, 1.2, 1.2, 1.8, 2.5, 3.0, 3.8, 4.3],
    [4.3, 2.2, 1.3, 1.0, 0.95, 0.9, 1.0, 0.95, 1.0, 1.1, 1.1, 1.3, 1.5, 2.0, 2.8, 3.5],
    [4.3, 2.2, 1.35, 1.05, 1.0, 0.9, 1.0, 0.95, 1.0, 1.1, 1.1, 1.3, 1.5, 2.0, 2.8, 3.5],
]
d87n_bound_a = [
    [3.65, 2.1, 1.6, 1.35, 1.1, 0.9, 0.83, 0.75, 0.75, 1.0, 0.9, 0.9, 1.5, 1.1, 1.2, 1.25, 0.83, 1.1, 1.35, 1.1,
     0.83, 0.9, 1.0, 1.35, 0.9, 1.1, 1.45, 1.25, 0.75, 0.9, 1.1, 1.45, 1.2, 0.9, 1.1, 1.95, 1.1, 0.9, 1.1, 2.1,
     3.2, 1.45, 1.35, 1.45, 1.6, 1.95, 1.45, 1.35, 1.75, 1.25, 1.85, 1.6, 1.35, 1.25, 0.9, 1.5, 0.9, 0.83, 0.83, 0.9,
     1.2, 1.6, 1.7, 1.45, 2.3, 2.0, 2.8, 1.95, 1.45, 1.6, 1.35, 2.1, 1.45, 1.25, 1.95, 1.5, 1.35, 1.25, 1.6, 1.1, 1.1, 1.0],
    [3.6, 2.0, 1.5, 1.25, 1.0, 0.8, 0.72, 0.65, 0.65, 0.9, 0.8, 0.8, 1.4, 1.0, 1.1, 1.15, 0.72, 1.0, 1.25, 1.0,
     0.72, 0.8, 0.9, 1.25, 0.8, 1.0, 1.1, 1.15, 0.65, 0.8, 1.0, 1.35, 1.1, 0.8, 1.0, 2.3, 1.0, 0.8, 1.0, 2.0,
     3.0, 1.35, 1.25, 1.35, 1.5, 1.85, 1.35, 1.25, 1.65, 1.15, 1.75, 1.5, 1.25, 1.15, 0.8, 1.4, 0.8, 0.75, 0.75, 0.8,
     1.1, 1.35, 1.35, 1.35, 2.2, 1.9, 3.0, 1.85, 1.35, 1.5, 1.25, 2.0, 1.35, 1.15, 1.85, 1.4, 1.25, 1.15, 1.5, 1.0, 1.0, 0.92],
    [3.7, 2.15, 1.65, 1.5, 1.15, 0.95, 1.2, 0.78, 0.78, 1.05, 0.95, 0.95, 1.5, 1.15, 1.5, 1.3, 0.86, 1.15, 1.4, 1.15,
     0.86, 0.95, 1.05, 1.4, 0.95, 1.15, 1.2, 1.3, 0.78, 0.95, 1.15, 1.5, 1.25, 0.95, 1.15, 2.0, 1.15, 0.95, 1.15, 2.1,
     2.7, 1.5, 1.4, 1.5, 1.65, 2.0, 1.5, 1.4, 2.3, 1.3, 2.4, 1.65, 1.4, 1.3, 0.95, 1.55, 0.95, 0.88, 0.88, 0.95,
     1.6, 1.7, 1.75, 1.5, 2.35, 3.3, 3.7, 2.0, 1.5, 1.65, 1.4, 2.15, 1.5, 1.3, 2.45, 1.55, 1.4, 1.3, 1.65, 1.15, 1.15, 1.05],
    [3.6, 2.0, 1.55, 1.3, 1.05, 0.85, 0.8, 0.72, 0.72, 1.25, 0.85, 0.85, 1.45, 1.05, 1.15, 1.2, 0.8, 1.05, 1.3, 1.05,
     0.8, 0.85, 0.95, 1.85, 0.85, 1.05, 1.15, 1.2, 0.72, 0.85, 1.05, 1.4, 1.15, 0.85, 1.05, 1.9, 1.05, 0.85, 1.05, 2.1,
     3.4, 1.4, 1.3, 1.4, 1.55, 1.9, 1.4, 1.3, 1.7, 1.2, 1.8, 1.55, 1.3, 1.2, 0.85, 1.45, 0.85, 0.8, 0.8, 0.85,
     1.15, 1.55, 1.65, 1.4, 2.25, 1.95, 2.3, 1.9, 1.4, 1.55, 1.3, 2.05, 1.4, 1.2, 1.9, 1.45, 1.3, 1.2, 1.6, 1.05, 1.05, 0.95],
    [3.65, 2.1, 1.6, 1.35, 1.1, 0.9, 0.83, 0.75, 0.75, 1.0, 0.9, 0.9, 1.5, 1.1, 1.2, 1.25, 0.83, 1.1, 1.77, 1.1,
     0.83, 0.9, 1.0, 1.35, 0.9, 1.1, 1.2, 1.25, 0.75, 0.9, 1.1, 1.45, 1.45, 0.9, 1.1, 1.95, 1.1, 0.9, 1.1, 2.45,
     4.0, 1.5, 2.2, 2.8, 3.5, 3.15, 2.45, 2.0, 3.2, 1.95, 2.95, 2.3, 2.1, 1.75, 0.95, 1.5, 0.9, 0.83, 0.83, 0.9,
     1.2, 1.6, 1.7, 1.45, 2.3, 2.0, 2.7, 1.95, 1.45, 1.6, 1.35, 2.1, 1.45, 1.25, 1.95, 1.5, 1.35, 1.25, 1.6, 1.1, 1.1, 1.0],
    [3.65, 2.1, 1.6, 1.35, 1.1, 0.9, 0.83, 0.75, 0.75, 1.0, 0.9, 0.9, 1.5, 1.1, 1.2, 1.25, 0.83, 1.1, 1.4, 1.1,
     0.83, 0.9, 1.0, 1.4, 0.9, 1.1, 1.2, 1.25, 0.75, 0.9, 1.1, 1.45, 1.2, 0.9, 1.1, 2.0, 1.1, 0.9, 1.1, 2.45,
     4.0, 1.5, 1.4, 1.5, 1.7, 2.45, 1.5, 1.4, 1.8, 1.3, 1.9, 1.65, 1.4, 1.3, 0.9, 1.5, 0.9, 0.83, 0.83, 0.9,
     1.2, 1.6, 1.7, 1.45, 2.3, 2.1, 4.0, 2.5, 1.45, 1.6, 1.35, 2.1, 1.45, 1.25, 1.95, 1.5, 1.35, 1.25, 1.6, 1.1, 1.1, 1.0],
]

rows = [
    (wt_free_b1, wt_free_b2, wt_free_a),
    (t83i_free_b1, t83i_free_b2, t83i_free_a),
    (d87n_free_b1, d87n_free_b2, d87n_free_a),
    (wt_bound_b1, wt_bound_b2, wt_bound_a),
    (t83i_bound_b1, t83i_bound_b2, t83i_bound_a),
    (d87n_bound_b1, d87n_bound_b2, d87n_bound_a),
]
row_labels = ['WT', 'T83I', 'D87N', 'WT', 'T83I', 'D87N']

W, H = 778, 572
fig = plt.figure(figsize=(W / 100, H / 100), dpi=100)

row_h = 76.4
row_tops = [44, 44 + row_h, 44 + 2 * row_h, 285, 285 + row_h, 285 + 2 * row_h]


def box(x0, x1, top):
    # axes placed in pixel units of the 778x572 canvas
    return fig.add_axes([x0 / W, 1 - (top + row_h) / H, (x1 - x0) / W, row_h / H])


def style(ax, xlim, xmaj, xmin, show_x, show_y):
    ax.set_xlim(*xlim)
    ax.set_ylim(0.15, 4.05)
    ax.xaxis.set_major_locator(MultipleLocator(xmaj))
    ax.xaxis.set_minor_locator(MultipleLocator(xmin))
    ax.yaxis.set_major_locator(MultipleLocator(1))
    ax.yaxis.set_minor_locator(MultipleLocator(0.5))
    ax.tick_params(which='both', direction='in', top=True, right=True, width=1.1, color='#222222',
                   labelsize=12.5, pad=3)
    ax.tick_params(which='major', length=8)
    ax.tick_params(which='minor', length=4)
    ax.set_yticks([1, 2, 3])
    if not show_x:
        ax.xaxis.set_major_formatter(NullFormatter())
    if not show_y:
        ax.yaxis.set_major_formatter(NullFormatter())
    for s in ax.spines.values():
        s.set_linewidth(1.4)
        s.set_color('#222222')


for i, (b1, b2, ga) in enumerate(rows):
    top = row_tops[i]
    last = i == len(rows) - 1
    ax1 = box(66, 180, top)
    ax2 = box(189, 235, top)
    ax3 = box(262, 714, top)
    for ax, xs, block in ((ax1, res_b1, b1), (ax2, res_b2, b2), (ax3, res_a, ga)):
        for ys, c in zip(block, colors):
            ax.plot(xs, ys, color=c, lw=0.9)
    style(ax1, (400, 565), 50, 10, last, True)
    style(ax2, (725, 805), 50, 10, last, False)
    style(ax3, (4, 520.5), 40, 4, last, False)
    fig.text(733 / W, 1 - (top + row_h / 2) / H, row_labels[i], rotation=270,
             ha='center', va='center', fontsize=18)

fig.text(161 / W, 1 - 32 / H, 'GyrB', fontsize=25, ha='center', va='baseline')
fig.text(486 / W, 1 - 32 / H, 'GyrA', fontsize=25, ha='center', va='baseline')
fig.text(378 / W, 1 - 565 / H, 'Residue Number', fontsize=26, ha='center', va='baseline')
fig.text(26 / W, 1 - 305 / H, 'RMSF (Å)', fontsize=30, rotation=90, ha='center', va='center')

# CPFX-free / CPFX-bound double arrows on the right
for (y0, y1, ytxt, txt) in ((43, 267, 142, 'CPFX-free'), (287, 517, 381, 'CPFX-bound')):
    arr = FancyArrowPatch((763 / W, 1 - y0 / H), (763 / W, 1 - y1 / H), transform=fig.transFigure,
                          arrowstyle='<|-|>', mutation_scale=14, lw=2.2, color='k')
    fig.add_artist(arr)
    fig.text(763 / W, 1 - ytxt / H, txt, rotation=270, ha='center', va='center', fontsize=16,
             bbox=dict(facecolor='white', edgecolor='none', pad=3), zorder=5)

fig.savefig('out.png', dpi=100)
